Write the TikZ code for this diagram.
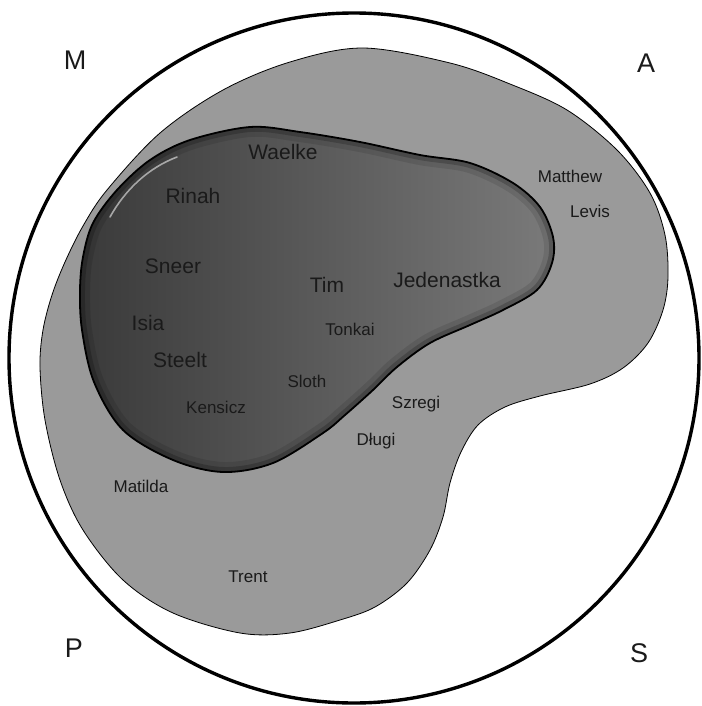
\documentclass[tikz,border=0pt]{standalone}
\usepackage{fontspec}
\setmainfont{Liberation Sans}
\usepackage{tikz}
\usetikzlibrary{positioning}
\definecolor{RingGray}{HTML}{9A9A9A}
\definecolor{CoreDark}{HTML}{3A3A3A}
\definecolor{CoreMid}{HTML}{4A4A4A}
\definecolor{CoreLight}{HTML}{7A7A7A}
\definecolor{InkGray}{HTML}{1A1A1A}
\tikzset{
  bigname/.style={anchor=base, inner sep=0pt, font=\fontsize{10.5}{12}\selectfont, text=InkGray},
  smallname/.style={anchor=base, inner sep=0pt, font=\fontsize{8.5}{10}\selectfont, text=InkGray},
  cornername/.style={anchor=base, inner sep=0pt, font=\fontsize{13.5}{15}\selectfont, text=InkGray},
  outerring/.style={draw=black, line width=1.7pt},
  grayzone/.style={draw=black, line width=0.4pt, fill=RingGray},
  corezone/.style={left color=CoreDark, middle color=CoreMid, right color=CoreLight}
}
\def\corepath{plot[smooth cycle, tension=0.55] coordinates {
  (250,127) (300,132) (360,142) (420,155) (470,163) (513,183) (540,207) (553,237)
  (552,263) (537,290) (503,310) (470,325) (430,343) (397,367) (373,390) (345,415)
  (323,433) (273,463) (223,472) (173,460) (123,430) (94,382) (82,330) (80,290)
  (83,257) (93,223) (117,190) (150,160) (190,140)}}

\begin{document}
\begin{tikzpicture}[x=0.5pt, y=-0.5pt]
\useasboundingbox (0,0) rectangle (701,706);
% outer circle
\draw[outerring] (354,358) circle[radius=345];
% light gray region
\draw[grayzone] plot[smooth cycle, tension=0.55] coordinates {
  (363,48) (450,63) (510,84) (567,110) (617,150) (650,193) (665,235) (668,277)
  (663,310) (648,343) (623,368) (590,384) (540,396) (505,407) (478,425) (461,452)
  (450,483) (443,517) (430,550) (407,583) (375,607) (340,620) (290,633) (240,633)
  (173,613) (123,580) (83,530) (60,480) (45,420) (40,367) (43,330) (52,295)
  (65,262) (83,226) (107,190) (160,133) (223,90) (290,62)};
% dark core with a soft inner rim
\fill[corezone] \corepath;
\begin{scope}
  \clip \corepath;
  \draw[black, opacity=0.1, line width=10pt] \corepath;
  \draw[black, opacity=0.2, line width=5pt] \corepath;
\end{scope}
\draw[black, line width=0.9pt] \corepath;
\draw[white, opacity=0.55, line width=0.8pt, line cap=round]
  (110,217) .. controls (125,190) and (148,168) .. (177,157);

% corner letters
\node[cornername] (m) at (75,69) {M};
\node[cornername] (a) at (646,73) {A};
\node[cornername] (p) at (74,657) {P};
\node[cornername] (s) at (639,662) {S};

% names inside the core
\node[bigname] (waelke) at (283,159) {Waelke};
\node[bigname] (rinah) at (193,203) {Rinah};
\node[bigname] (sneer) at (173,273) {Sneer};
\node[bigname] (tim) at (327,292) {Tim};
\node[bigname] (jedenastka) at (447,287) {Jedenastka};
\node[bigname] (isia) at (148,330) {Isia};
\node[bigname] (steelt) at (180,367) {Steelt};
\node[smallname] (tonkai) at (350,335) {Tonkai};
\node[smallname] (sloth) at (307,387) {Sloth};
\node[smallname] (kensicz) at (216,413) {Kensicz};

% names in the gray region
\node[smallname] (matthew) at (570,182) {Matthew};
\node[smallname] (levis) at (590,217) {Levis};
\node[smallname] (szregi) at (416,408) {Szregi};
\node[smallname] (dlugi) at (376,445) {Długi};
\node[smallname] (matilda) at (141,492) {Matilda};
\node[smallname] (trent) at (248,582) {Trent};
\end{tikzpicture}
\end{document}
